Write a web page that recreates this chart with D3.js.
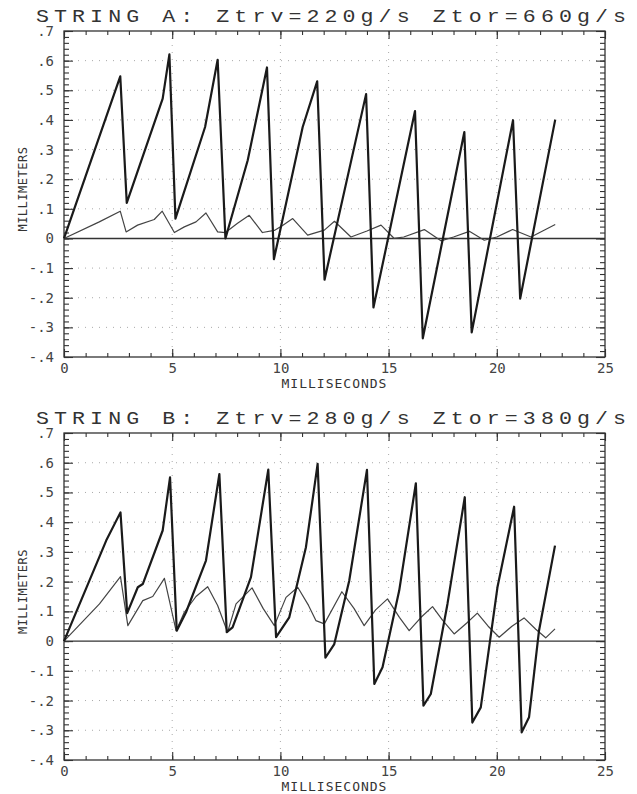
<!DOCTYPE html>
<html>
<head>
<meta charset="utf-8">
<script src="https://cdn.jsdelivr.net/npm/d3@7"></script>
<style>
  body { margin: 0; background: #fff; }
  svg { display: block; }
</style>
</head>
<body>
<svg id="chart"></svg>
<script>
// String A, thick trace (time in ms, displacement in mm)
const aMainT = [0, 2.60, 2.90, 4.56, 4.87, 5.15, 6.52, 7.10, 7.46, 8.49, 9.38, 9.70, 11.03, 11.70, 12.04, 13.96, 14.30, 16.22, 16.58, 18.50, 18.84, 20.75, 21.08, 22.70];
const aMainY = [0, 0.547, 0.12, 0.472, 0.621, 0.067, 0.376, 0.603, 0.0, 0.264, 0.577, -0.07, 0.376, 0.530, -0.139, 0.487, -0.233, 0.430, -0.337, 0.359, -0.317, 0.399, -0.203, 0.401];

// String A, thin trace
const aThinT = [0, 1.63, 2.60, 2.87, 3.40, 4.17, 4.54, 5.10, 5.56, 6.10, 6.56, 7.10, 7.46, 8.02, 8.56, 9.17, 9.72, 10.10, 10.57, 11.26, 12.03, 12.50, 13.26, 14.00, 14.65, 15.26, 15.70, 16.65, 17.42, 18.00, 18.73, 19.42, 20.00, 20.73, 21.58, 22.70];
const aThinY = [0, 0.056, 0.092, 0.022, 0.045, 0.064, 0.092, 0.020, 0.039, 0.056, 0.086, 0.022, 0.020, 0.051, 0.078, 0.020, 0.027, 0.044, 0.067, 0.011, 0.028, 0.058, 0.005, 0.025, 0.045, 0.0, 0.005, 0.030, -0.008, 0.005, 0.024, -0.006, 0.005, 0.030, 0.005, 0.047];

// String B, thick trace
const bMainT = [0, 1.95, 2.61, 2.92, 3.41, 3.64, 4.56, 4.90, 5.21, 5.64, 6.56, 7.18, 7.52, 7.79, 8.64, 9.44, 9.80, 10.41, 11.18, 11.72, 12.08, 12.49, 13.18, 14.00, 14.34, 14.72, 15.49, 16.26, 16.61, 16.95, 17.72, 18.52, 18.87, 19.26, 20.03, 20.80, 21.15, 21.49, 21.95, 22.69];
const bMainY = [0, 0.338, 0.433, 0.094, 0.181, 0.192, 0.372, 0.551, 0.035, 0.097, 0.271, 0.562, 0.030, 0.046, 0.215, 0.577, 0.013, 0.080, 0.316, 0.596, -0.056, -0.010, 0.203, 0.576, -0.144, -0.088, 0.170, 0.531, -0.217, -0.178, 0.125, 0.484, -0.274, -0.223, 0.181, 0.452, -0.307, -0.256, 0.035, 0.321];

// String B, thin trace
const bThinT = [0, 1.64, 2.61, 2.95, 3.64, 4.10, 4.64, 5.18, 5.56, 6.10, 6.64, 7.10, 7.56, 7.95, 8.69, 9.20, 9.72, 10.26, 10.80, 11.30, 11.64, 12.03, 12.84, 13.40, 13.87, 14.40, 14.95, 15.50, 15.95, 16.50, 17.03, 17.50, 18.03, 18.60, 19.10, 19.60, 20.11, 20.70, 21.26, 21.80, 22.26, 22.69];
const bThinY = [0, 0.125, 0.217, 0.052, 0.136, 0.150, 0.211, 0.035, 0.097, 0.150, 0.183, 0.120, 0.030, 0.125, 0.179, 0.110, 0.052, 0.147, 0.181, 0.120, 0.069, 0.058, 0.166, 0.110, 0.052, 0.105, 0.142, 0.080, 0.035, 0.080, 0.116, 0.070, 0.024, 0.060, 0.094, 0.050, 0.013, 0.050, 0.078, 0.040, 0.011, 0.041];

// axis ticks and labels
const xTickValues = [0, 5, 10, 15, 20, 25];
const xTickLabels = ["0", "5", "10", "15", "20", "25"];
const yTickValues = [0.7, 0.6, 0.5, 0.4, 0.3, 0.2, 0.1, 0, -0.1, -0.2, -0.3, -0.4];
const yTickLabels = [".7", ".6", ".5", ".4", ".3", ".2", ".1", "0", "-.1", "-.2", "-.3", "-.4"];
const titles = ["STRING A: Ztrv=220g/s Ztor=660g/s", "STRING B: Ztrv=280g/s Ztor=380g/s"];

const width = 637, height = 794;
const left = 64, right = 605;

const svg = d3.select("#chart")
    .attr("width", width)
    .attr("height", height);

svg.append("rect").attr("width", width).attr("height", height).attr("fill", "#fff");

const panels = [
    { title: titles[0], top: 31, bottom: 357, titleY: 22, main: [aMainT, aMainY], thin: [aThinT, aThinY] },
    { title: titles[1], top: 433, bottom: 760, titleY: 424, main: [bMainT, bMainY], thin: [bThinT, bThinY] }
];

const x = d3.scaleLinear().domain([0, 25]).range([left, right]);

panels.forEach(p => {
    const y = d3.scaleLinear().domain([-0.4, 0.7]).range([p.bottom, p.top]);
    const g = svg.append("g");

    // title, stretched a bit to get the wide plotter letters
    const sx = 1.2;
    g.append("text")
        .attr("transform", `translate(36,${p.titleY}) scale(${sx},1)`)
        .attr("textLength", 590 / sx)
        .attr("lengthAdjust", "spacing")
        .style("font-family", "'Liberation Mono', monospace")
        .style("font-size", "18px")
        .attr("fill", "#333")
        .text(p.title);

    // dotted grid
    g.append("g").selectAll("line")
        .data(yTickValues.filter(v => v !== 0 && v !== 0.7 && v !== -0.4))
        .enter().append("line")
        .attr("x1", left).attr("x2", right)
        .attr("y1", d => y(d)).attr("y2", d => y(d))
        .attr("stroke", "#aaa").attr("stroke-width", 1)
        .attr("stroke-dasharray", "1,6");
    g.append("g").selectAll("line")
        .data(xTickValues.filter(v => v > 0 && v < 25))
        .enter().append("line")
        .attr("y1", p.top).attr("y2", p.bottom)
        .attr("x1", d => x(d)).attr("x2", d => x(d))
        .attr("stroke", "#aaa").attr("stroke-width", 1)
        .attr("stroke-dasharray", "1,6");

    // zero line
    g.append("line")
        .attr("x1", left).attr("x2", right)
        .attr("y1", y(0)).attr("y2", y(0))
        .attr("stroke", "#333").attr("stroke-width", 1.4);

    // inward ticks on all four sides
    const minorX = d3.range(0, 26, 1);
    const minorY = d3.range(-40, 71, 2).map(v => v / 100);
    const tickStyle = sel => {
        sel.select(".domain").remove();
        sel.selectAll(".tick line").attr("stroke", "#333").attr("stroke-width", 1.1);
    };

    g.append("g").attr("transform", `translate(0,${p.bottom})`)
        .call(d3.axisBottom(x).tickValues(minorX).tickSize(-4).tickFormat("")).call(tickStyle);
    g.append("g").attr("transform", `translate(0,${p.top})`)
        .call(d3.axisTop(x).tickValues(minorX).tickSize(-4).tickFormat("")).call(tickStyle);
    g.append("g").attr("transform", `translate(0,${p.top})`)
        .call(d3.axisTop(x).tickValues(xTickValues).tickSize(-8).tickFormat("")).call(tickStyle);
    g.append("g").attr("transform", `translate(${left},0)`)
        .call(d3.axisLeft(y).tickValues(minorY).tickSize(-5).tickFormat("")).call(tickStyle);
    g.append("g").attr("transform", `translate(${right},0)`)
        .call(d3.axisRight(y).tickValues(minorY).tickSize(-5).tickFormat("")).call(tickStyle);
    g.append("g").attr("transform", `translate(${right},0)`)
        .call(d3.axisRight(y).tickValues(yTickValues).tickSize(-9).tickFormat("")).call(tickStyle);

    // labelled major ticks
    const xAxis = g.append("g").attr("transform", `translate(0,${p.bottom})`)
        .call(d3.axisBottom(x).tickValues(xTickValues).tickSize(-8).tickPadding(6)
            .tickFormat((d, i) => xTickLabels[i]))
        .call(tickStyle);
    const yAxis = g.append("g").attr("transform", `translate(${left},0)`)
        .call(d3.axisLeft(y).tickValues(yTickValues).tickSize(-9).tickPadding(10)
            .tickFormat((d, i) => yTickLabels[i]))
        .call(tickStyle);
    [xAxis, yAxis].forEach(a => a.selectAll("text")
        .style("font-family", "'DejaVu Sans Mono', monospace")
        .style("font-size", "14px")
        .attr("fill", "#444"));

    // frame
    g.append("rect")
        .attr("x", left).attr("y", p.top)
        .attr("width", right - left).attr("height", p.bottom - p.top)
        .attr("fill", "none").attr("stroke", "#333").attr("stroke-width", 1.3);

    // axis titles
    g.append("text")
        .attr("x", x(12.5)).attr("y", p.bottom + 31)
        .attr("text-anchor", "middle")
        .style("font-family", "'DejaVu Sans Mono', monospace")
        .style("font-size", "13px")
        .style("letter-spacing", "1px")
        .attr("fill", "#333")
        .text("MILLISECONDS");
    g.append("text")
        .attr("transform", `translate(27,${p.top + 0.485 * (p.bottom - p.top)}) rotate(-90)`)
        .attr("text-anchor", "middle")
        .style("font-family", "'DejaVu Sans Mono', monospace")
        .style("font-size", "12px")
        .style("letter-spacing", "0.5px")
        .attr("fill", "#333")
        .text("MILLIMETERS");

    // traces
    const line = d3.line().x(d => x(d[0])).y(d => y(d[1]));
    const thinPts = p.thin[0].map((t, i) => [t, p.thin[1][i]]);
    const mainPts = p.main[0].map((t, i) => [t, p.main[1][i]]);

    g.append("path").datum(thinPts)
        .attr("d", line)
        .attr("fill", "none").attr("stroke", "#444").attr("stroke-width", 1.2)
        .attr("stroke-linejoin", "round");
    g.append("path").datum(mainPts)
        .attr("d", line)
        .attr("fill", "none").attr("stroke", "#1a1a1a").attr("stroke-width", 2.2)
        .attr("stroke-linejoin", "round");
});
</script>
</body>
</html>
